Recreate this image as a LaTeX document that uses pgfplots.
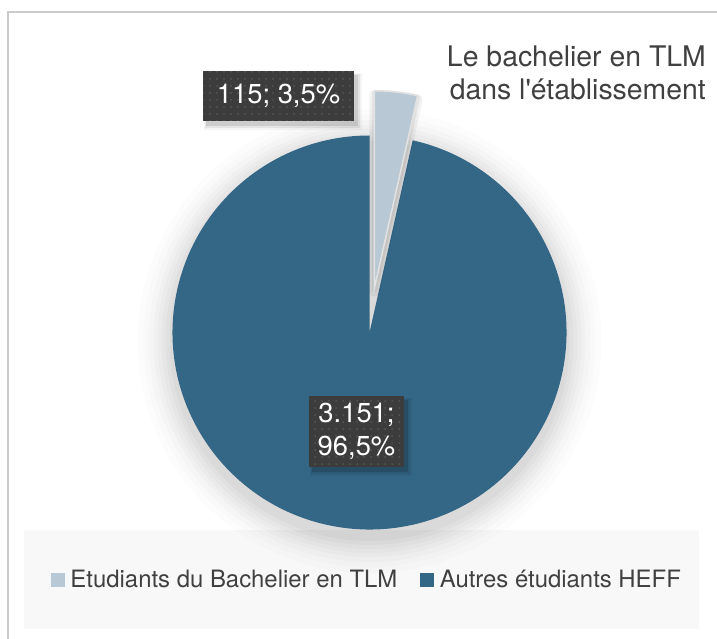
\documentclass[border=0pt]{standalone}
\usepackage{pgfplots}
\pgfplotsset{compat=1.18}
\usepackage{fontspec}
\setmainfont{TeX Gyre Heros}
\usetikzlibrary{patterns.meta}
\definecolor{darkslice}{HTML}{346685}
\definecolor{lightslice}{HTML}{B8C8D4}
\definecolor{legbg}{HTML}{F8F8F8}
\definecolor{framec}{HTML}{CBCBCB}
\definecolor{txt}{HTML}{404040}
\definecolor{boxfill}{HTML}{3C3C3C}
\definecolor{boxdot}{HTML}{565656}
\definecolor{sliceedge}{HTML}{E2E2E2}

% data
\def\valA{115}
\def\valB{3151}
\pgfmathsetmacro{\total}{\valA+\valB}
\pgfmathsetmacro{\frac}{\valA/\total}
\pgfmathsetmacro{\angA}{360*\frac}
\pgfmathsetmacro{\endA}{90-\angA}
\pgfmathsetmacro{\midA}{90-\angA/2}

\begin{document}
\begin{tikzpicture}
\begin{axis}[
  x=1bp, y=1bp, y dir=reverse,
  xmin=0, xmax=717, ymin=0, ymax=639,
  hide axis, clip=false, scale only axis,
  legend columns=2,
  legend style={at={(axis cs:366,580)}, anchor=center, draw=none, fill=none,
     font=\fontsize{24}{28}\selectfont, text=txt,
     nodes={inner sep=0pt},
     /tikz/every odd column/.append style={column sep=6bp},
     /tikz/every even column/.append style={column sep=23bp}},
]
\coordinate (BL) at (axis cs:0,639);
\coordinate (TR) at (axis cs:717,0);
% frame
\draw[framec, line width=2bp] (axis cs:8,645) -- (axis cs:8,12) -- (axis cs:725,12);
% legend background
\fill[legbg] (axis cs:24,530) rectangle (axis cs:699,629);
% pie shadow
\fill[black, opacity=0.022] (axis cs:369.5,341) circle[radius=200bp];
\fill[black, opacity=0.022] (axis cs:369.5,341) circle[radius=204bp];
\fill[black, opacity=0.020] (axis cs:369.5,341) circle[radius=208bp];
\fill[black, opacity=0.020] (axis cs:369.5,341) circle[radius=212bp];
\fill[black, opacity=0.018] (axis cs:369.5,341) circle[radius=216bp];
\fill[black, opacity=0.015] (axis cs:369.5,341) circle[radius=221bp];
\fill[black, opacity=0.012] (axis cs:369.5,341) circle[radius=226bp];
\fill[black, opacity=0.010] (axis cs:369.5,341) circle[radius=232bp];
% dark slice
\fill[darkslice] (axis cs:369.5,332.5) -- ++(\endA:197bp)
   arc[start angle=\endA, end angle=-270, radius=197bp] -- cycle;
% light slice shadow + slice (exploded)
\draw[black, opacity=0.05, line width=10bp, line join=round] ([shift={(\midA:45bp)}]axis cs:369.5,336.5) -- ++(90:197bp)
   arc[start angle=90, end angle=\endA, radius=197bp] -- cycle;
\draw[black, opacity=0.06, line width=5bp, line join=round] ([shift={(\midA:45bp)}]axis cs:369.5,334.5) -- ++(90:197bp)
   arc[start angle=90, end angle=\endA, radius=197bp] -- cycle;
\filldraw[fill=lightslice, draw=sliceedge, line width=1.5bp] ([shift={(\midA:45bp)}]axis cs:369.5,332.5) -- ++(90:197bp)
   arc[start angle=90, end angle=\endA, radius=197bp] -- cycle;
% label box shadows
\fill[black, opacity=0.10] (axis cs:206,75) rectangle (axis cs:358,126);
\fill[black, opacity=0.07] (axis cs:205,74) rectangle (axis cs:360,128);
\fill[black, opacity=0.04] (axis cs:204,73) rectangle (axis cs:362,130);
\fill[black, opacity=0.12] (axis cs:312,400) rectangle (axis cs:408,472);
\fill[black, opacity=0.08] (axis cs:311,399) rectangle (axis cs:410,474);
\fill[black, opacity=0.05] (axis cs:310,398) rectangle (axis cs:412,476);
% labels
\node[fill=boxfill, postaction={pattern={Dots[distance=7bp, radius=1bp]}, pattern color=boxdot},
      minimum width=151bp, minimum height=50bp, inner sep=0pt, text=white,
      font=\fontsize{27.5}{33}\selectfont] at (axis cs:278.5,96) {115; 3,5\%};
\node[fill=boxfill, postaction={pattern={Dots[distance=7bp, radius=1bp]}, pattern color=boxdot},
      minimum width=95bp, minimum height=71bp, inner sep=0pt, text=white, align=center,
      font=\fontsize{27.5}{33}\selectfont] at (axis cs:356.5,431.5) {3.151;\\96,5\%};
% title
\node[anchor=base east, inner sep=0pt, text=txt, font=\fontsize{28.5}{32}\selectfont] at (axis cs:706,67) {Le bachelier en TLM};
\node[anchor=base east, inner sep=0pt, text=txt, font=\fontsize{28.5}{32}\selectfont] at (axis cs:706,100) {dans l\textquotesingle établissement};
% legend
\addlegendimage{legend image code/.code={\fill[lightslice] (0bp,-6.5bp) rectangle (13bp,6.5bp);}}
\addlegendentry{Etudiants du Bachelier en TLM}
\addlegendimage{legend image code/.code={\fill[darkslice] (0bp,-6.5bp) rectangle (13bp,6.5bp);}}
\addlegendentry{Autres étudiants HEFF}
\end{axis}
\pgfresetboundingbox
\path[use as bounding box] (BL) rectangle (TR);
\end{tikzpicture}
\end{document}
